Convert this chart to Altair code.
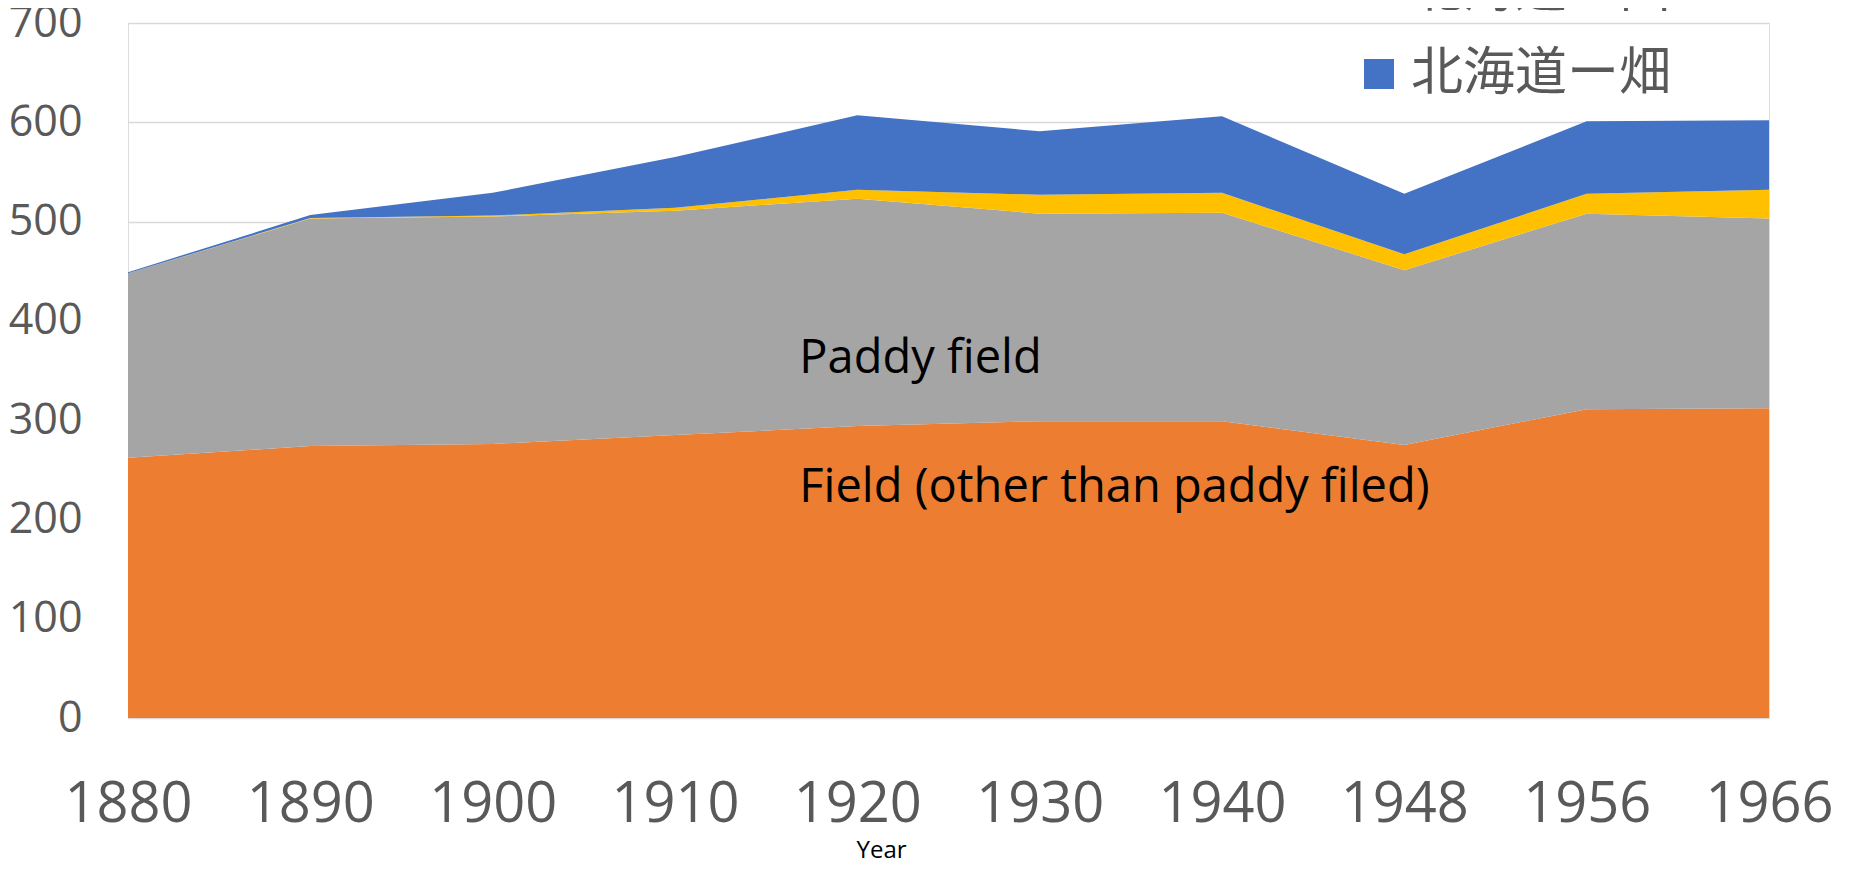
import altair as alt
import pandas as pd

years = ["1880", "1890", "1900", "1910", "1920", "1930", "1940", "1948", "1956", "1966"]
field_other = [262, 274, 276, 285, 294, 299, 299, 275, 311, 312]
paddy = [186, 229, 229, 226, 229, 209, 210, 176, 197, 191]
hokkaido_ta = [0, 0.5, 1, 3, 9, 19, 20, 16, 20, 29]
hokkaido_hata = [1, 3, 23, 51, 75, 64, 77, 61, 73, 70]

series_names = ["Field (other than paddy filed)", "Paddy field", "北海道ー田", "北海道ー畑"]
series_values = [field_other, paddy, hokkaido_ta, hokkaido_hata]
series_colors = ["#ED7D31", "#A5A5A5", "#FFC000", "#4472C4"]

ann_text = ["Paddy field", "Field (other than paddy filed)"]
ann_year = ["1920", "1920"]
ann_value = [347, 218]

rows = []
for i, (name, vals) in enumerate(zip(series_names, series_values)):
    for y, v in zip(years, vals):
        rows.append({"year": y, "value": v, "series": name, "idx": i})
df = pd.DataFrame(rows)
ann = pd.DataFrame({"text": ann_text, "year": ann_year, "value": ann_value})

LATIN = "Open Sans"
GREY = "#595959"

x_enc = alt.X(
    "year:O",
    sort=years,
    scale=alt.Scale(type="point", padding=0),
    axis=alt.Axis(
        title="Year",
        titleFont=LATIN,
        titleFontSize=24,
        titleFontWeight="normal",
        titleColor="#000000",
        titleX=753,
        titleY=139,
        titleAlign="center",
        titleBaseline="alphabetic",
        labelFont=LATIN,
        labelFontSize=56,
        labelColor=GREY,
        labelPadding=59,
        labelAngle=0,
        ticks=False,
        tickSize=0,
        domain=False,
        grid=False,
    ),
)

area = alt.Chart(df).mark_area(opacity=1).encode(
    x=x_enc,
    y=alt.Y(
        "value:Q",
        stack="zero",
        scale=alt.Scale(domain=[0, 700], nice=False),
        axis=alt.Axis(
            title=None,
            values=[0, 100, 200, 300, 400, 500, 600, 700],
            labelFont=LATIN,
            labelFontSize=43,
            labelColor=GREY,
            labelPadding=46,
            ticks=False,
            tickSize=0,
            domain=False,
            grid=True,
            gridColor="#D9D9D9",
            gridWidth=1.5,
        ),
    ),
    color=alt.Color(
        "series:N",
        scale=alt.Scale(domain=series_names, range=series_colors),
        legend=alt.Legend(
            title=None,
            values=["北海道ー田", "北海道ー畑"],
            orient="none",
            legendX=1225,
            legendY=-58,
            direction="vertical",
            symbolType="square",
            symbolSize=900,
            symbolStrokeWidth=0,
            labelFont="Noto Sans CJK JP",
            labelFontSize=52,
            labelColor=GREY,
            labelOffset=6,
            labelLimit=600,
            rowPadding=31,
            padding=0,
        ),
    ),
    order=alt.Order("idx:Q"),
)

text = alt.Chart(ann).mark_text(
    align="left", baseline="alphabetic", dx=-58, font=LATIN, fontSize=47, color="#000000"
).encode(
    x=alt.X("year:O", sort=years),
    y=alt.Y("value:Q"),
    text="text:N",
)

chart = (
    alt.layer(area, text)
    .properties(
        width=1641,
        height=695,
        autosize=alt.AutoSizeParams(type="none"),
        padding={"left": 120, "top": 15, "right": 70, "bottom": 141},
    )
    .configure_view(stroke=None)
    .configure(background="white")
)

chart.save("out.html", embed_options={"renderer": "svg", "actions": False})
